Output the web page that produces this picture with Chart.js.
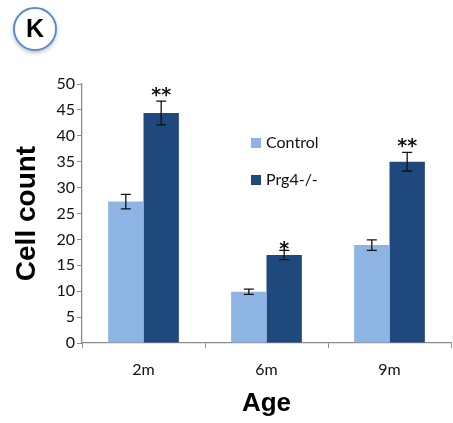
<!DOCTYPE html>
<html><head><meta charset="utf-8">
<script src="https://cdn.jsdelivr.net/npm/chart.js@4.4.1/dist/chart.umd.min.js"></script>
<style>html,body{margin:0;padding:0;background:#fff}#wrap{width:453px;height:423px}</style>
</head><body><div id="wrap"><canvas id="c" width="453" height="423"></canvas></div>
<script>
const categories = ["2m", "6m", "9m"];
const controlValues = [27.3, 9.9, 18.9];
const controlErrors = [1.4, 0.5, 1.0];
const prg4Values = [44.4, 17.0, 35.0];
const prg4Errors = [2.3, 0.9, 1.8];
const prg4Stars = ["**", "*", "**"];
const yTicks = [0, 5, 10, 15, 20, 25, 30, 35, 40, 45, 50];

const TXT = "#111";
const AXIS = "#8c8c8c";

const errPlugin = {
  id: "errbars",
  afterDatasetsDraw(chart) {
    const ctx = chart.ctx, y = chart.scales.y;
    ctx.save();
    ctx.strokeStyle = "#111"; ctx.lineWidth = 1.3;
    const sets = [[controlValues, controlErrors], [prg4Values, prg4Errors]];
    sets.forEach((s, di) => {
      chart.getDatasetMeta(di).data.forEach((bar, i) => {
        const x = bar.x, v = s[0][i], e = s[1][i];
        const yt = y.getPixelForValue(v + e), yb = y.getPixelForValue(v - e);
        ctx.beginPath();
        ctx.moveTo(x, yt); ctx.lineTo(x, yb);
        ctx.moveTo(x - 5, yt); ctx.lineTo(x + 5, yt);
        ctx.moveTo(x - 5, yb); ctx.lineTo(x + 5, yb);
        ctx.stroke();
        if (di === 1) {
          ctx.fillStyle = "#111";
          ctx.font = "bold 19px 'DejaVu Sans'";
          ctx.textAlign = "center"; ctx.textBaseline = "alphabetic";
          ctx.fillText(prg4Stars[i], x, yt + (i === 1 ? 5 : 0));
        }
      });
    });
    // legend
    const lx = 251, items = [["Control", "#8DB4E2", 143], ["Prg4-/-", "#1F497D", 180]];
    ctx.font = "16px Lato";
    ctx.textAlign = "left"; ctx.textBaseline = "middle";
    items.forEach(it => {
      ctx.fillStyle = it[1]; ctx.fillRect(lx, it[2] - 5, 10, 10);
      ctx.fillStyle = TXT; ctx.fillText(it[0], lx + 15, it[2]);
    });
    // K badge
    ctx.shadowColor = "rgba(0,0,0,0.35)"; ctx.shadowBlur = 5; ctx.shadowOffsetY = 2;
    ctx.beginPath(); ctx.arc(35, 29, 21, 0, Math.PI * 2);
    ctx.fillStyle = "#fff"; ctx.fill();
    ctx.shadowColor = "transparent";
    ctx.lineWidth = 2; ctx.strokeStyle = "#5B8BD0"; ctx.stroke();
    ctx.fillStyle = "#000"; ctx.font = "bold 25px 'Liberation Sans'";
    ctx.textAlign = "center"; ctx.textBaseline = "middle";
    ctx.fillText("K", 35, 30);
    ctx.restore();
  }
};

new Chart(document.getElementById("c"), {
  type: "bar",
  data: {
    labels: categories,
    datasets: [
      { label: "Control", data: controlValues, backgroundColor: "#8DB4E2", categoryPercentage: 0.575, barPercentage: 1.0 },
      { label: "Prg4-/-", data: prg4Values, backgroundColor: "#1F497D", categoryPercentage: 0.575, barPercentage: 1.0 }
    ]
  },
  plugins: [errPlugin],
  options: {
    responsive: false, animation: false, devicePixelRatio: 1,
    layout: { padding: { top: 84, right: 2, left: 0, bottom: 0 } },
    plugins: { legend: { display: false }, tooltip: { enabled: false } },
    scales: {
      x: {
        grid: { offset: true, drawOnChartArea: false, drawTicks: true, tickLength: 5, color: AXIS },
        border: { color: AXIS, width: 1.3 },
        ticks: { color: TXT, font: { family: "Lato", size: 16 }, padding: 12 },
        title: { display: true, text: "Age", color: "#000", font: { family: "Liberation Sans", weight: "bold", size: 26 }, padding: { top: 0, bottom: 4 } },
        afterFit(s) { s.height = 80; }
      },
      y: {
        min: 0, max: 50,
        afterBuildTicks(s) { s.ticks = yTicks.map(v => ({ value: v })); },
        grid: { drawOnChartArea: false, drawTicks: true, tickLength: 5, color: AXIS },
        border: { color: AXIS, width: 1.3 },
        ticks: { color: TXT, font: { family: "Lato", size: 16 }, padding: 2 },
        title: { display: true, text: "Cell count", color: "#000", font: { family: "Liberation Sans", weight: "bold", size: 28 }, padding: { top: 10, bottom: 0 } },
        afterFit(s) { s.width = 82; }
      }
    }
  }
});
</script></body></html>
